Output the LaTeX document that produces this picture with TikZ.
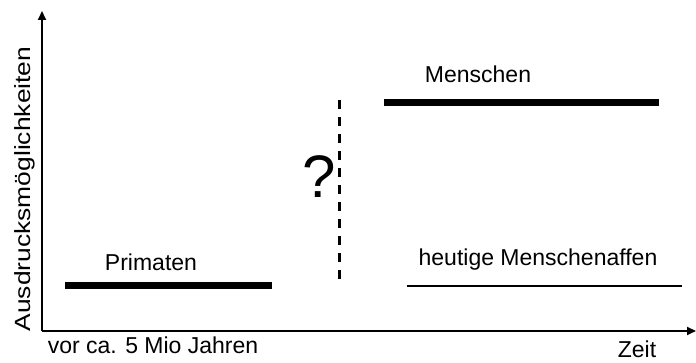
\documentclass[tikz,border=0pt]{standalone}
\usepackage{fontspec}
\setmainfont{Liberation Sans}
\usetikzlibrary{arrows.meta}
\tikzset{
    lbl/.style={anchor=base, inner sep=0pt, font=\fontsize{23}{27}\selectfont},
    bar/.style={line width=7pt},
    axis/.style={line width=2pt, -{Triangle[length=9pt,width=8pt]}}
}
\begin{document}
\begin{tikzpicture}[x=1pt,y=1pt]
            \useasboundingbox (0,0) rectangle (696,363);
            \coordinate (o) at (42,32);
            \coordinate (ytop) at (42,352);
            \coordinate (xend) at (696,32);
            \draw[axis] (o) -- (ytop);
            \draw[axis] (o) -- (xend);

            \node[lbl, rotate=90, font=\fontsize{22}{26}\selectfont] (ausdruck) at (30,174){\scalebox{1.2}[1]{Ausdrucksmöglichkeiten}};
            \node[lbl] (vor) at (153,9){vor ca. 5 Mio Jahren};
            \node[lbl] (zeit) at (637,5){Zeit};

            % Linien der Gruppen
            \foreach \a/\b/\h in {65/272/77, 384/659/260}
                \draw[bar] (\a,\h) -- (\b,\h);
            \draw[line width=2.5pt] (407,77) -- (682,77);

            \node[lbl] (primaten) at (151,92){Primaten};
            \node[lbl] (menschen) at (478,280){Menschen};
            \node[lbl] (affen) at (538,97){heutige Menschenaffen};

            \draw[line width=3pt, dash pattern=on 9pt off 8pt] (339,263) -- (339,78);
            \node[lbl, font=\fontsize{60}{64}\selectfont] (frage) at (319,165){?};
        \end{tikzpicture}
\end{document}
